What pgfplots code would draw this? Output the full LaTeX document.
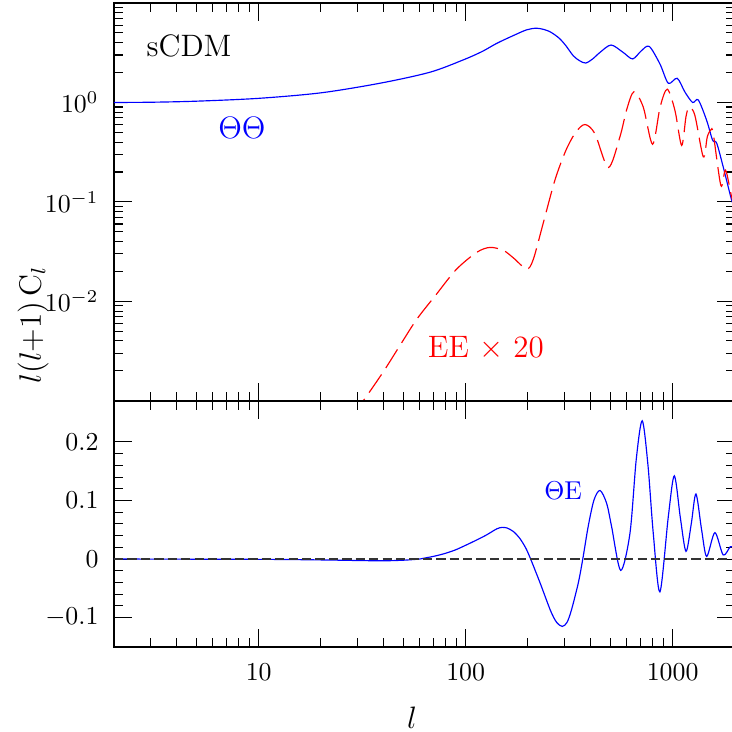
\documentclass[border=0pt]{standalone}
\usepackage{pgfplots}
\pgfplotsset{compat=1.18}

% l(l+1)C_l, normalised to 1 at l=2
\pgfplotstableread{
l    y
2    1.0
3    1.005
5    1.03
10   1.1
20   1.25
38.5 1.56
67   2.01
97   2.67
120  3.25
141  3.92
169  4.68
197  5.37
220  5.58
240  5.4
255  5.15
270  4.78
286  4.34
305  3.72
331  2.95
355  2.63
380  2.49
410  2.73
446  3.19
504  3.78
575  3.2
641  2.74
705  3.3
771  3.66
868  2.44
953  1.56
1052 1.75
1147 1.27
1249 1.0
1330 1.06
1460 0.66
1560 0.417
1632 0.39
1755 0.225
1926 0.105
2000 0.088
}\tabtt

\pgfplotstableread{
l    y
28   0.0007
32   0.001
40   0.00196
48   0.00357
58   0.0066
72   0.0117
90   0.0209
113  0.0311
131  0.0349
152  0.0326
170  0.0274
197  0.0212
212  0.0263
237  0.0612
270  0.166
305  0.33
340  0.50
377  0.60
421  0.486
489  0.222
556  0.45
600  0.85
650  1.28
721  0.90
800  0.38
870  0.9
942  1.36
1026 0.83
1105 0.37
1160 0.72
1202 0.90
1281 0.74
1406 0.284
1470 0.45
1530 0.53
1571 0.486
1711 0.146
1801 0.209
1926 0.113
2000 0.09
}\tabee

\pgfplotstableread{
l     y
2     0
10    -0.0005
20    -0.0015
30    -0.0025
40    -0.003
50    -0.002
60    0.0
63.1  0.0015
70.8  0.005
79.4  0.0095
89.1  0.0155
100   0.0235
112.2 0.032
125.9 0.041
141.3 0.0515
150   0.054
158.5 0.053
170   0.047
182   0.036
195   0.019
206   0.0
229   -0.041
257   -0.088
275   -0.108
293   -0.115
309   -0.108
325   -0.086
350   -0.041
368   0.0
391   0.056
417   0.101
446   0.117
480   0.095
507   0.0556
561   -0.0194
622   0.044
667   0.17
713   0.236
760   0.16
806   0.044
868   -0.056
953   0.0726
1019  0.142
1090  0.07
1160  0.013
1230  0.06
1296  0.111
1380  0.05
1460  0.0045
1600  0.045
1755  0.007
1900  0.021
2000  0.02
}\tabte

\pgfplotsset{
  mypanel/.style={
    scale only axis,
    width=240.5pt,
    xmin=2, xmax=2000,
    xtick={10,100,1000},
    minor xtick={3,4,5,6,7,8,9,20,30,40,50,60,70,80,90,200,300,400,500,600,700,800,900},
    major tick length=7pt, minor tick length=3.5pt,
    tick align=inside,
    tick style={black, line width=0.4pt},
    axis line style={line width=0.5pt},
    yticklabel style={xshift=-2.5pt},
    xticklabel style={yshift=-3pt},
  }
}

\begin{document}
\begin{tikzpicture}
\begin{axis}[mypanel, name=top,
    xmode=log, ymode=log,
    height=154.1pt,
    ymin=1e-3, ymax=10,
    ytick={0.001,0.01,0.1,1,10},
    yticklabels={{},$10^{-2}$,$10^{-1}$,$10^{0}$,{}},
    minor ytick={0.002,0.003,0.004,0.005,0.006,0.007,0.008,0.009,
                 0.02,0.03,0.04,0.05,0.06,0.07,0.08,0.09,
                 0.2,0.3,0.4,0.5,0.6,0.7,0.8,0.9,
                 2,3,4,5,6,7,8,9},
    xticklabels={},
  ]
  \coordinate (tl) at (rel axis cs:0,1);
  \addplot[blue, line width=0.45pt, smooth] table[x=l, y=y] {\tabtt};
  \addplot[red, line width=0.45pt, smooth, dash pattern=on 8.5pt off 3pt] table[x=l, y=y] {\tabee};
  \node[anchor=base west, font=\large] at (axis cs:2.6,2.88) {sCDM};
  \node[anchor=center, font=\large, text=blue] at (axis cs:8.3,0.55) {$\Theta\Theta$};
  \node[anchor=base, font=\large, text=red] at (axis cs:125,0.00275) {EE $\times$ 20};
\end{axis}

\begin{axis}[mypanel, name=bot,
    xmode=log,
    at={(top.south west)}, anchor=north west,
    height=95.3pt,
    ymin=-0.15, ymax=0.27,
    ytick={-0.1,0,0.1,0.2},
    minor y tick num=4,
    xticklabels={10,100,1000},
    xlabel={$l$},
    xlabel style={at={(axis description cs:0.48,0)}, anchor=center, yshift=-27.5pt, font=\large},
    ylabel={$l(l{+}1)\,\mathrm{C}_l$},
    ylabel style={at={(axis description cs:-0.1304,1.309)}, anchor=center, font=\large},
    scaled y ticks=false,
  ]
  \addplot[blue, line width=0.45pt, smooth] table[x=l, y=y] {\tabte};
  \addplot[black!80, line width=0.45pt, dash pattern=on 3.6pt off 1.6pt] coordinates {(2,0) (2000,0)};
  \node[anchor=base, text=blue] at (axis cs:296,0.101) {$\Theta$E};
\end{axis}

\pgfresetboundingbox
\path[use as bounding box] ([shift={(-44.15pt,1.16pt)}]tl) rectangle ([shift={(239.35pt,-282.35pt)}]tl);
\end{tikzpicture}
\end{document}
